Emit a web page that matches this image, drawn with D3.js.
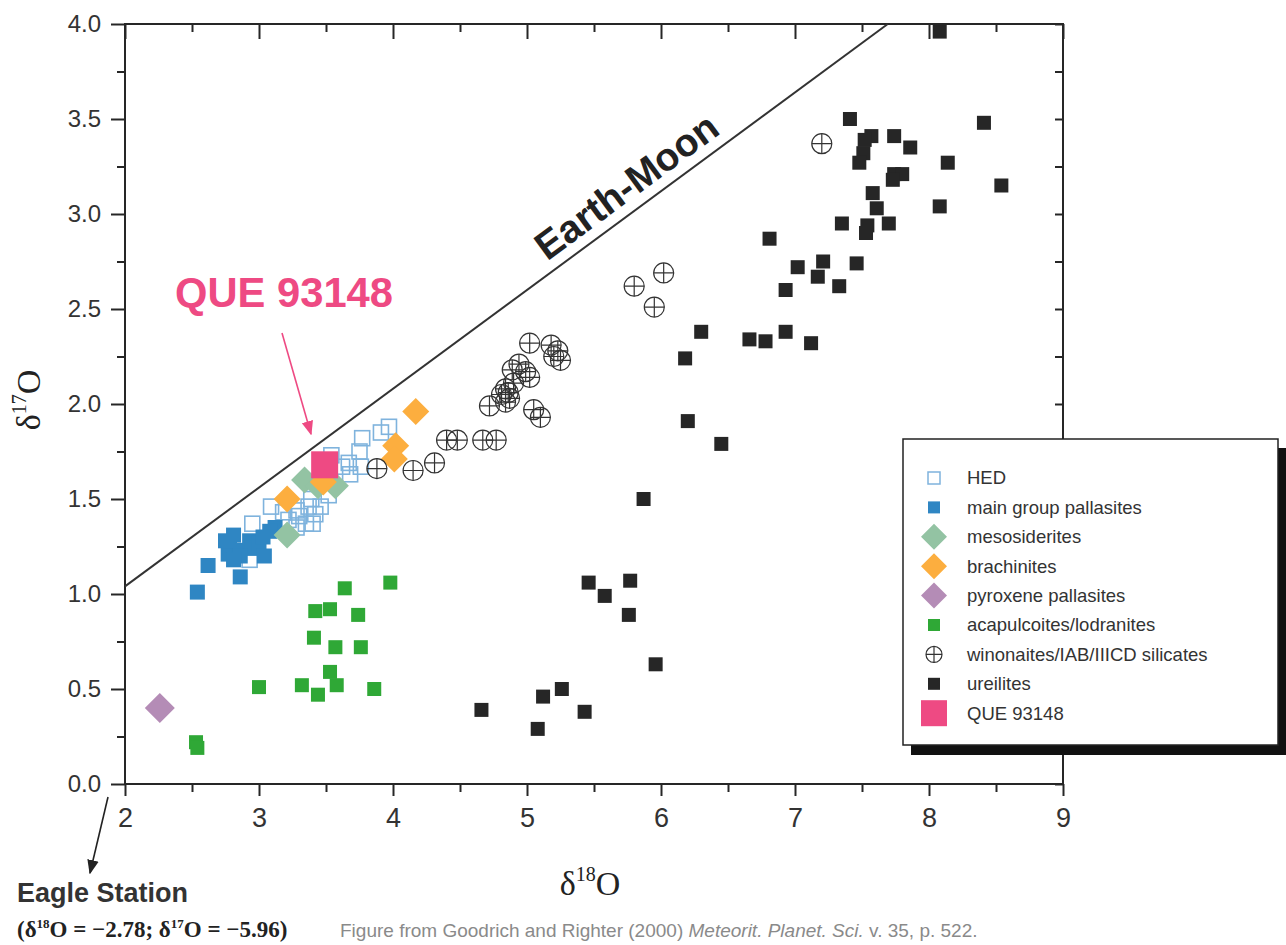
<!DOCTYPE html>
<html><head><meta charset="utf-8">
<script src="https://cdn.jsdelivr.net/npm/d3@7"></script>
<style>body{margin:0;background:#fff}svg{display:block}</style>
</head><body>
<svg id="c" width="1286" height="945"></svg>
<script>
// ---- data (delta18O, delta17O) ----
const hed = [[3.97,1.88],[3.91,1.85],[3.77,1.82],[3.75,1.75],[3.54,1.73],[3.67,1.69],[3.76,1.67],[3.62,1.67],[3.68,1.63],
  [3.09,1.46],[3.28,1.44],[3.37,1.46],[3.46,1.46],[3.39,1.50],[3.30,1.41],[3.42,1.42],[3.22,1.39],[3.35,1.37],[2.95,1.37],
  [3.28,1.35],[3.40,1.37],[2.93,1.18],[3.18,1.43],[3.52,1.52]];
const mainGroup = [[2.54,1.01],[2.62,1.15],[2.86,1.09],[2.81,1.31],[2.78,1.25],[2.77,1.21],[2.85,1.23],[2.93,1.28],[2.95,1.24],
  [3.00,1.27],[3.04,1.20],[2.86,1.20],[3.12,1.35],[3.08,1.33],[3.03,1.30],[2.81,1.18],[2.75,1.28]];
const meso = [[3.34,1.60],[3.57,1.57],[3.21,1.31],[3.44,1.57]];
const brach = [[4.17,1.96],[4.02,1.78],[4.01,1.71],[3.21,1.50],[3.48,1.59]];
const pyroxene = [[2.26,0.40]];
const acap = [[3.98,1.06],[3.64,1.03],[3.42,0.91],[3.53,0.92],[3.74,0.89],[3.41,0.77],[3.57,0.72],[3.76,0.72],[3.53,0.59],
  [3.58,0.52],[3.32,0.52],[3.00,0.51],[3.44,0.47],[3.86,0.50],[2.53,0.22],[2.54,0.19]];
const winon = [[3.88,1.66],[4.15,1.65],[4.31,1.69],[4.40,1.81],[4.48,1.81],[4.67,1.81],[4.77,1.81],[4.72,1.99],[4.84,2.01],
  [4.87,2.03],[4.81,2.05],[4.86,2.06],[4.84,2.08],[4.90,2.11],[5.02,2.14],[4.99,2.17],[4.89,2.18],[4.94,2.21],[5.05,1.97],
  [5.10,1.93],[5.02,2.32],[5.18,2.31],[5.23,2.28],[5.20,2.25],[5.25,2.23],[5.80,2.62],[6.02,2.69],[5.95,2.51],[7.20,3.37]];
const ureilites = [[8.08,3.96],[7.41,3.50],[8.41,3.48],[7.57,3.41],[7.52,3.39],[7.74,3.41],[7.86,3.35],[7.51,3.32],[7.48,3.27],
  [8.14,3.27],[7.74,3.21],[7.80,3.21],[7.73,3.18],[8.54,3.15],[7.58,3.11],[7.61,3.03],[8.08,3.04],[7.35,2.95],[7.70,2.95],
  [7.54,2.94],[7.53,2.90],[6.81,2.87],[7.21,2.75],[7.02,2.72],[7.46,2.74],[7.17,2.67],[6.93,2.60],[7.33,2.62],[6.93,2.38],
  [6.66,2.34],[6.78,2.33],[7.12,2.32],[6.30,2.38],[6.18,2.24],[6.20,1.91],[6.45,1.79],[5.87,1.50],
  [5.46,1.06],[5.77,1.07],[5.58,0.99],[5.76,0.89],[5.96,0.63],[5.26,0.50],[5.12,0.46],[4.66,0.39],[5.43,0.38],[5.08,0.29]];
const que = [[3.49,1.68]];
const earthMoonSlope = 0.52;
const xTicks = [2,3,4,5,6,7,8,9];
const xMinor = [2.5,3.5,4.5,5.5,6.5,7.5,8.5];
const yTicks = [0,0.5,1,1.5,2,2.5,3,3.5,4];
const yMinor = [0.25,0.75,1.25,1.75,2.25,2.75,3.25,3.75];
const legendLabels = ["HED","main group pallasites","mesosiderites","brachinites","pyroxene pallasites",
  "acapulcoites/lodranites","winonaites/IAB/IIICD silicates","ureilites","QUE 93148"];

// ---- drawing ----
const svg = d3.select("#c");
const x = d3.scaleLinear().domain([2,9]).range([125,1063]);
const y = d3.scaleLinear().domain([0,4]).range([784,24]);
const ink = "#262626";
const sans = "'Liberation Sans', Arial, sans-serif";
const serif = "'Liberation Serif', 'Times New Roman', serif";

function styleAxis(g, size){
  g.select(".domain").remove();
  g.selectAll("line").attr("stroke", ink).attr("stroke-width", 2);
  g.selectAll("text").attr("fill","#333").attr("font-family",sans).attr("font-size",size);
}
// left
svg.append("g").attr("transform","translate(125,0)")
  .call(d3.axisLeft(y).tickValues(yTicks).tickSize(14).tickPadding(10).tickFormat(d3.format(".1f"))).call(g=>styleAxis(g,24));
svg.append("g").attr("transform","translate(125,0)")
  .call(d3.axisLeft(y).tickValues(yMinor).tickSize(8).tickFormat("")).call(g=>styleAxis(g,24));
// bottom
svg.append("g").attr("transform","translate(0,784)")
  .call(d3.axisBottom(x).tickValues(xTicks).tickSize(12).tickPadding(12).tickFormat(d3.format("d"))).call(g=>styleAxis(g,27));
svg.append("g").attr("transform","translate(0,784)")
  .call(d3.axisBottom(x).tickValues(xMinor).tickSize(8).tickFormat("")).call(g=>styleAxis(g,27));
// top (inward)
svg.append("g").attr("transform","translate(0,24)")
  .call(d3.axisTop(x).tickValues(xTicks).tickSize(-15).tickFormat("")).call(g=>styleAxis(g,20));
svg.append("g").attr("transform","translate(0,24)")
  .call(d3.axisTop(x).tickValues(xMinor).tickSize(-8).tickFormat("")).call(g=>styleAxis(g,20));
// right (inward)
svg.append("g").attr("transform","translate(1063,0)")
  .call(d3.axisRight(y).tickValues(yTicks.concat(yMinor)).tickSize(-8).tickFormat("")).call(g=>styleAxis(g,20));
// frame
svg.append("rect").attr("x",x(2)).attr("y",y(4)).attr("width",x(9)-x(2)).attr("height",y(0)-y(4))
  .attr("fill","none").attr("stroke",ink).attr("stroke-width",2);

// Earth-Moon line
const xEnd = 4/earthMoonSlope;
svg.append("line").attr("x1",x(2)).attr("y1",y(2*earthMoonSlope)).attr("x2",x(xEnd)).attr("y2",y(4))
  .attr("stroke","#333").attr("stroke-width",2);
const ang = Math.atan2(y(2*earthMoonSlope)-y(4), x(xEnd)-x(2))*180/Math.PI;
svg.append("text").attr("transform",`translate(${x(5.2)},${y(5.2*earthMoonSlope)}) rotate(${-ang}) translate(0,-11)`)
  .attr("font-family",sans).attr("font-weight","bold").attr("font-size",39).attr("fill","#222").text("Earth-Moon");

// markers
function squares(data, size, fill, stroke){
  svg.append("g").selectAll("rect").data(data).join("rect")
    .attr("x",d=>x(d[0])-size/2).attr("y",d=>y(d[1])-size/2).attr("width",size).attr("height",size)
    .attr("fill",fill).attr("stroke",stroke||"none").attr("stroke-width",stroke?1.6:0);
}
function diamonds(data, diag, fill){
  const h = diag/2;
  svg.append("g").selectAll("path").data(data).join("path")
    .attr("d",d=>`M${x(d[0])},${y(d[1])-h}L${x(d[0])+h},${y(d[1])}L${x(d[0])},${y(d[1])+h}L${x(d[0])-h},${y(d[1])}Z`)
    .attr("fill",fill);
}
function crosses(data, r){
  const g = svg.append("g").selectAll("g").data(data).join("g")
    .attr("transform",d=>`translate(${x(d[0])},${y(d[1])})`);
  g.append("circle").attr("r",r).attr("fill","none").attr("stroke","#333").attr("stroke-width",1.2);
  g.append("path").attr("d",`M${-r},0H${r}M0,${-r}V${r}`).attr("stroke","#333").attr("stroke-width",1.2);
}
const colHED="#7fb3dd", colMG="#2f86c3", colMeso="#93c3a3", colBr="#fcae3f", colPy="#b48cb6",
      colAc="#2fa836", colUr="#262626", colQ="#ee4a83";
squares(hed, 15, "none", colHED);
squares(mainGroup, 15, colMG);
diamonds(meso, 27, colMeso);
diamonds(brach, 27, colBr);
diamonds(pyroxene, 30, colPy);
squares(acap, 14, colAc);
crosses(winon, 10);
squares(ureilites, 14, colUr);
squares(que, 27, colQ);

// QUE label + arrow
svg.append("defs").html(`
 <marker id="ap" viewBox="0 0 10 10" refX="9" refY="5" markerWidth="9" markerHeight="9" orient="auto"><path d="M0,1L10,5L0,9Z" fill="${colQ}"/></marker>
 <marker id="ak" viewBox="0 0 10 10" refX="9" refY="5" markerWidth="9" markerHeight="9" orient="auto"><path d="M0,1L10,5L0,9Z" fill="#222"/></marker>`);
svg.append("text").attr("x",175).attr("y",307).attr("font-family",sans).attr("font-weight","bold")
  .attr("font-size",43).attr("fill",colQ).attr("textLength",218).attr("lengthAdjust","spacingAndGlyphs").text("QUE 93148");
svg.append("line").attr("x1",282).attr("y1",333).attr("x2",311).attr("y2",434)
  .attr("stroke",colQ).attr("stroke-width",1.6).attr("marker-end","url(#ap)");

// axis titles
const xt = svg.append("text").attr("x",590).attr("y",895).attr("text-anchor","middle")
  .attr("font-family",serif).attr("font-size",34).attr("fill","#222");
xt.append("tspan").text("δ");
xt.append("tspan").attr("font-size",20).attr("dy",-14).text("18");
xt.append("tspan").attr("dy",14).text("O");
const yt = svg.append("text").attr("transform","translate(40,400) rotate(-90)").attr("text-anchor","middle")
  .attr("font-family",serif).attr("font-size",34).attr("fill","#222");
yt.append("tspan").text("δ");
yt.append("tspan").attr("font-size",20).attr("dy",-14).text("17");
yt.append("tspan").attr("dy",14).text("O");

// legend
svg.append("rect").attr("x",911).attr("y",448).attr("width",375).attr("height",307).attr("fill","#111");
svg.append("rect").attr("x",903).attr("y",439).attr("width",375).attr("height",306)
  .attr("fill","#fff").attr("stroke","#222").attr("stroke-width",1.5);
const lg = svg.append("g");
legendLabels.forEach((lab,i)=>{
  const cy = 478 + i*29.4, cx = 934;
  const s = lg.append("g").attr("transform",`translate(${cx},${cy})`);
  if(i===0) s.append("rect").attr("x",-6).attr("y",-6).attr("width",12).attr("height",12).attr("fill","none").attr("stroke",colHED).attr("stroke-width",1.5);
  if(i===1) s.append("rect").attr("x",-6).attr("y",-6).attr("width",12).attr("height",12).attr("fill",colMG);
  if(i===2||i===3||i===4) s.append("path").attr("d","M0,-13L13,0L0,13L-13,0Z").attr("fill",[colMeso,colBr,colPy][i-2]);
  if(i===5) s.append("rect").attr("x",-6).attr("y",-6).attr("width",12).attr("height",12).attr("fill",colAc);
  if(i===6){ s.append("circle").attr("r",8).attr("fill","none").attr("stroke","#333").attr("stroke-width",1.2);
    s.append("path").attr("d","M-8,0H8M0,-8V8").attr("stroke","#333").attr("stroke-width",1.2); }
  if(i===7) s.append("rect").attr("x",-6).attr("y",-6).attr("width",12).attr("height",12).attr("fill",colUr);
  if(i===8) s.append("rect").attr("x",-13).attr("y",-13).attr("width",26).attr("height",26).attr("fill",colQ);
  lg.append("text").attr("x",967).attr("y",cy).attr("dy","0.35em").attr("font-family",sans)
    .attr("font-size",18.5).attr("fill","#333").text(lab);
});

// Eagle Station note
svg.append("line").attr("x1",108).attr("y1",797).attr("x2",90).attr("y2",873)
  .attr("stroke","#222").attr("stroke-width",1.6).attr("marker-end","url(#ak)");
svg.append("text").attr("x",17).attr("y",902).attr("font-family",sans).attr("font-weight","bold")
  .attr("font-size",27).attr("fill","#333").text("Eagle Station");
const es = svg.append("text").attr("x",17).attr("y",937).attr("font-family",serif).attr("font-weight","bold")
  .attr("font-size",23).attr("fill","#222");
es.append("tspan").text("(δ");
es.append("tspan").attr("font-size",13).attr("dy",-9).text("18");
es.append("tspan").attr("dy",9).text("O = −2.78; δ");
es.append("tspan").attr("font-size",13).attr("dy",-9).text("17");
es.append("tspan").attr("dy",9).text("O = −5.96)");
const cap = svg.append("text").attr("x",340).attr("y",937).attr("font-family",sans).attr("font-size",19).attr("fill","#8a8a8a");
cap.append("tspan").text("Figure from Goodrich and Righter (2000) ");
cap.append("tspan").attr("font-style","italic").text("Meteorit. Planet. Sci.");
cap.append("tspan").text(" v. 35, p. 522.");
</script>
</body></html>
